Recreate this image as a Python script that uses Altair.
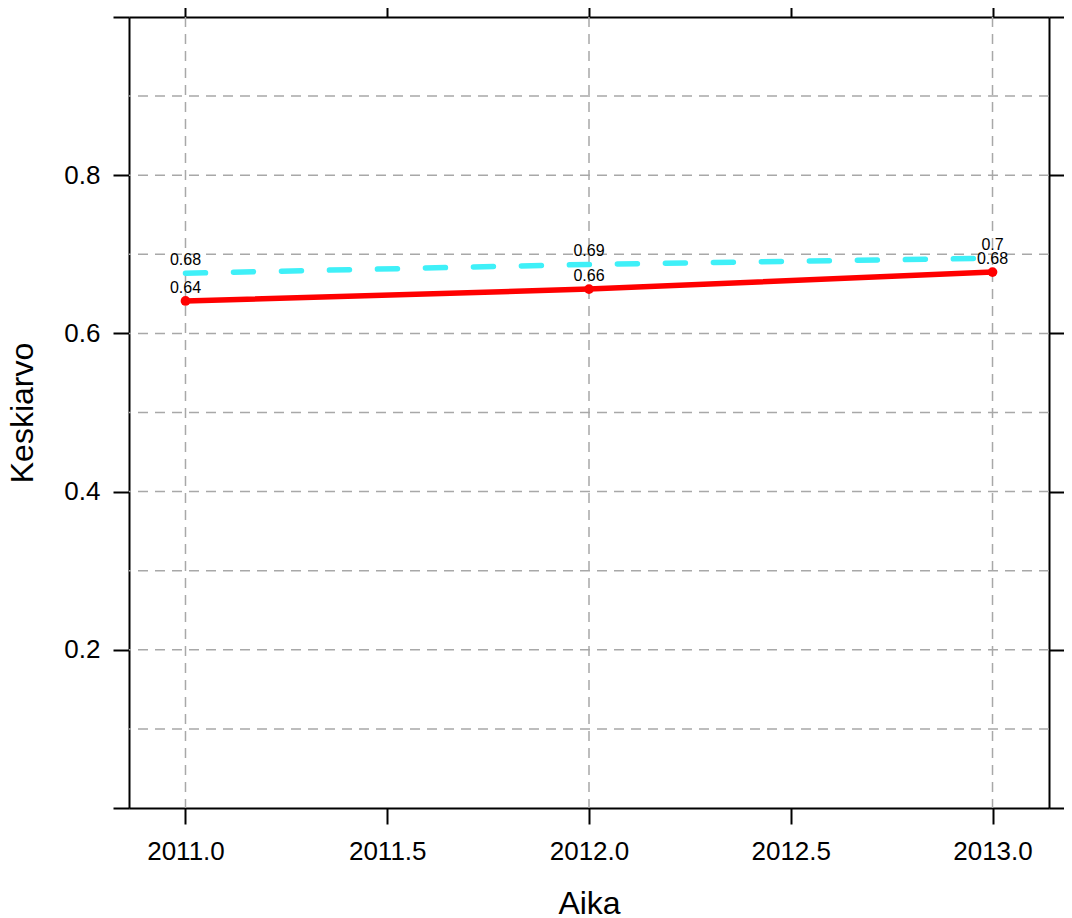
import altair as alt
import pandas as pd

# ---- data ----
years = [2011, 2012, 2013]
red_values = [0.641, 0.656, 0.6775]
cyan_values = [0.676, 0.6872, 0.695]
red_labels = ["0.64", "0.66", "0.68"]
cyan_labels = ["0.68", "0.69", "0.7"]

x_ticks = [2011.0, 2011.5, 2012.0, 2012.5, 2013.0]
y_ticks = [0.0, 0.2, 0.4, 0.6, 0.8, 1.0]
grid_x = [2011.0, 2012.0, 2013.0]
grid_y = [0.1, 0.2, 0.3, 0.4, 0.5, 0.6, 0.7, 0.8, 0.9]
x_domain = [2010.86, 2013.14]
y_domain = [0.0, 1.0]

FONT = "Liberation Sans"

red_df = pd.DataFrame({"Aika": years, "Keskiarvo": red_values, "label": red_labels})
cyan_df = pd.DataFrame({"Aika": years, "Keskiarvo": cyan_values, "label": cyan_labels})
gx_df = pd.DataFrame({"Aika": grid_x})
gy_df = pd.DataFrame({"Keskiarvo": grid_y})
tick_df = pd.DataFrame({"Aika": [x_domain[0]], "Keskiarvo": [y_domain[0]]})

xs = alt.Scale(domain=x_domain, nice=False, zero=False)
ys = alt.Scale(domain=y_domain, nice=False, zero=False)

common_axis = dict(
    domainColor="black", domainWidth=2, tickColor="black", tickWidth=2,
    tickSize=16, grid=False, labelFont=FONT, labelFontSize=26,
    labelColor="black", titleFont=FONT, titleFontSize=32,
    titleColor="black", titleFontWeight="normal",
)

bottom_axis = alt.Axis(
    orient="bottom", values=x_ticks, format=".1f", title="Aika",
    labelPadding=14, titleY=105, titleBaseline="alphabetic", **common_axis,
)
top_axis = alt.Axis(orient="top", values=x_ticks, labels=False, title=None, **common_axis)
left_axis = alt.Axis(
    orient="left", values=y_ticks, title="Keskiarvo",
    labelExpr="(datum.value == 0 || datum.value == 1) ? '' : format(datum.value, '.1f')",
    labelPadding=13, titleX=-97, titleBaseline="alphabetic", titleAngle=270,
    **common_axis,
)
right_axis = alt.Axis(orient="right", values=y_ticks, labels=False, title=None, **common_axis)

grid_style = dict(color="#a8a8a8", strokeWidth=1.5, strokeDash=[10, 7])

vgrid = alt.Chart(gx_df).mark_rule(**grid_style).encode(
    x=alt.X("Aika:Q", scale=xs, axis=bottom_axis)
)
hgrid = alt.Chart(gy_df).mark_rule(**grid_style).encode(
    y=alt.Y("Keskiarvo:Q", scale=ys, axis=left_axis)
)
frame = alt.Chart(tick_df).mark_point(opacity=0).encode(
    x=alt.X("Aika:Q", scale=xs, axis=top_axis),
    y=alt.Y("Keskiarvo:Q", scale=ys, axis=right_axis),
)

cyan_line = alt.Chart(cyan_df).mark_line(
    color="#3ff0f8", strokeWidth=5.5, strokeDash=[20, 28], strokeCap="round"
).encode(
    x=alt.X("Aika:Q", scale=xs, axis=None),
    y=alt.Y("Keskiarvo:Q", scale=ys, axis=None),
)
red_line = alt.Chart(red_df).mark_line(color="#ff0000", strokeWidth=5.5).encode(
    x=alt.X("Aika:Q", scale=xs, axis=None),
    y=alt.Y("Keskiarvo:Q", scale=ys, axis=None),
)
red_pts = alt.Chart(red_df).mark_point(
    color="#ff0000", filled=True, size=95, opacity=1
).encode(
    x=alt.X("Aika:Q", scale=xs, axis=None),
    y=alt.Y("Keskiarvo:Q", scale=ys, axis=None),
)

text_style = dict(dy=-8, baseline="alphabetic", align="center", fontSize=16,
                  font=FONT, color="black")
cyan_text = alt.Chart(cyan_df).mark_text(**text_style).encode(
    x=alt.X("Aika:Q", scale=xs, axis=None),
    y=alt.Y("Keskiarvo:Q", scale=ys, axis=None),
    text="label:N",
)
red_text = alt.Chart(red_df).mark_text(**text_style).encode(
    x=alt.X("Aika:Q", scale=xs, axis=None),
    y=alt.Y("Keskiarvo:Q", scale=ys, axis=None),
    text="label:N",
)

chart = alt.layer(
    vgrid, hgrid, frame, cyan_line, red_line, red_pts, cyan_text, red_text
).resolve_axis(
    x="independent", y="independent"
).properties(
    width=920, height=791,
    padding={"left": 121, "top": 9, "right": 15, "bottom": 110},
    autosize=alt.AutoSizeParams(type="none"),
    background="white",
).configure_view(strokeWidth=0)

chart.save("out.html", embed_options={"renderer": "svg", "actions": False})
